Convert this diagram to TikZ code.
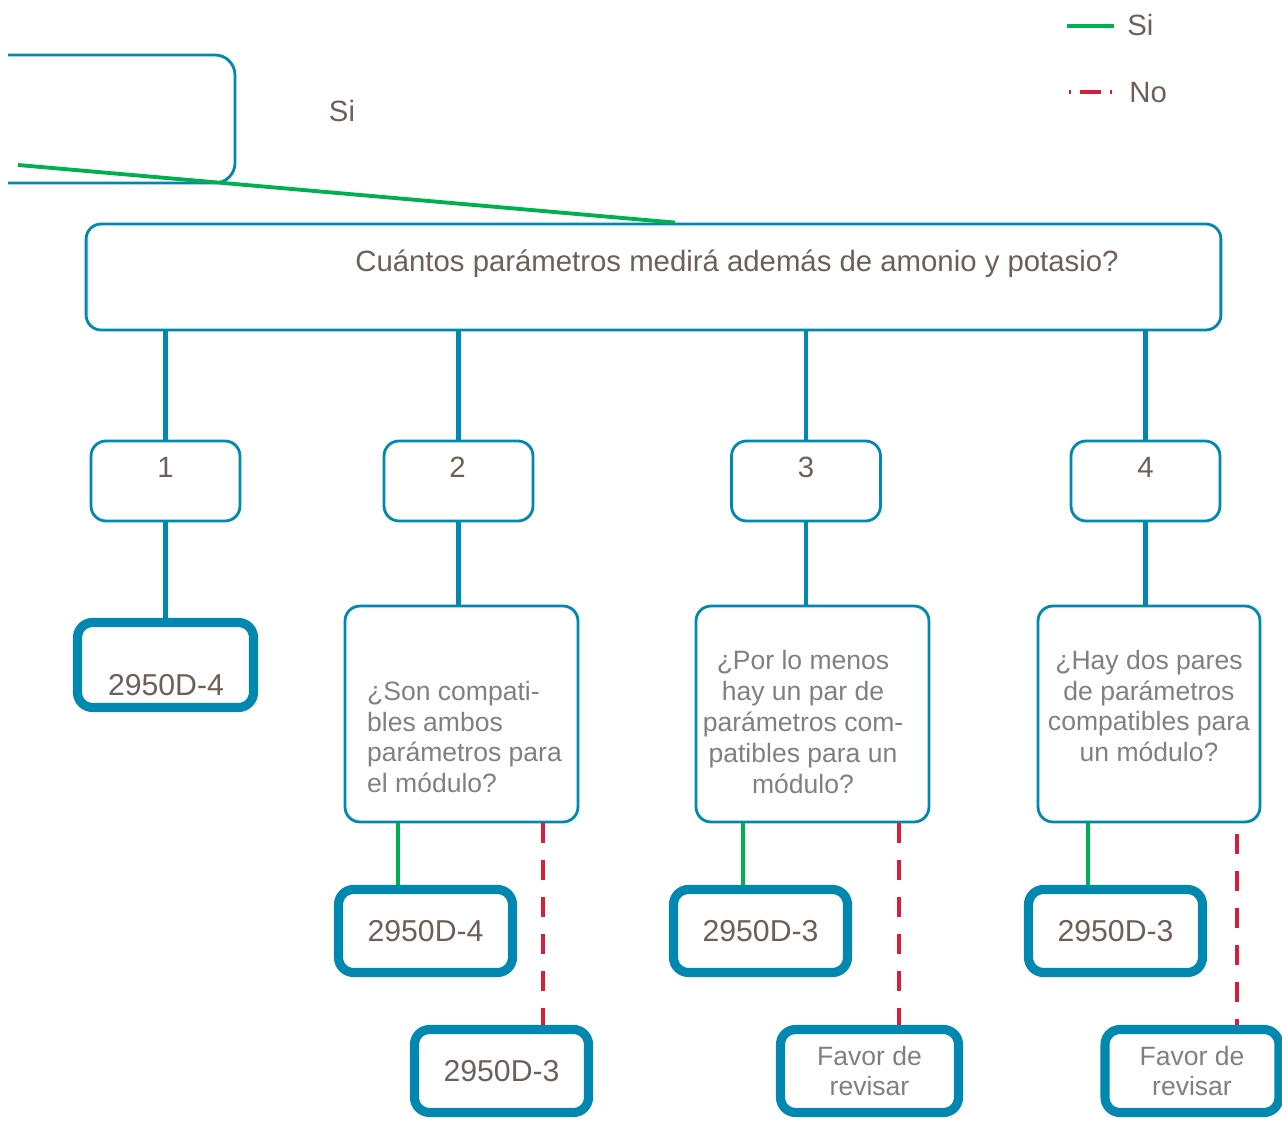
\documentclass[tikz,border=0pt]{standalone}
\usepackage{fontspec}
\setmainfont{Liberation Sans}
\definecolor{boxblue}{RGB}{0,136,176}
\definecolor{sigreen}{RGB}{0,176,80}
\definecolor{nored}{RGB}{215,30,58}
\definecolor{txtbrown}{RGB}{108,96,88}
\definecolor{txtgrey}{RGB}{128,128,128}
\tikzstyle{thinbox}=[draw=boxblue,line width=1.6pt,rounded corners=0.3cm,fill=white]
\tikzstyle{thickbox}=[draw=boxblue,line width=5.2pt,rounded corners=0.3cm,fill=white,minimum width=3.48cm,minimum height=1.66cm,align=center]
\tikzstyle{numbox}=[thinbox,minimum width=2.98cm,minimum height=1.6cm]
\tikzstyle{qbox}=[thinbox,minimum height=4.32cm]
\tikzstyle{blueline}=[draw=boxblue,line width=2.4pt]
\tikzstyle{siline}=[draw=sigreen,line width=2.2pt]
\tikzstyle{noline}=[draw=nored,line width=2.8pt,dash pattern=on 0.4cm off 0.34cm]
\tikzstyle{bigtext}=[text=txtbrown,font=\fontsize{16.7}{19}\selectfont]
\tikzstyle{codetext}=[text=txtbrown,font=\fontsize{17.2}{19}\selectfont]
\tikzstyle{qtext}=[text=txtgrey,font=\fontsize{15.1}{17.6}\selectfont]

\begin{document}
\begin{tikzpicture}[x=0.02cm,y=-0.02cm]
	\useasboundingbox (0,0) rectangle (1282,1121);
	% box cut by the page edge
	\draw[draw=boxblue,line width=1.6pt,rounded corners=0.4cm]
		(8,55) -- (235,55) -- (235,183) -- (8,183);
	\coordinate (prev) at (18,165);
	% legend
	\node[bigtext,inner sep=0pt,anchor=west] (legsi) at (1127,25) {Si};
	\node[bigtext,inner sep=0pt,anchor=west] (legno) at (1129,93) {No};
	\draw[siline,line width=2.6pt] (1067,26) -- (1114,26);
	\draw[noline,dash pattern=on 0.42cm off 0.18cm,dash phase=0.38cm] (1069,92) -- (1112,92);
	% question
	\node[thinbox,minimum width=22.7cm,minimum height=2.12cm] (main) at (653.5,277) {};
	\node[bigtext] (maintxt) at (737,264) {Cuántos parámetros medirá además de amonio y potasio?};
	\draw[siline] (prev) -- ([xshift=0.43cm]main.north);
	\node[bigtext] (sitxt) at (342,111) {Si};
	% how many
	\node[numbox] (n1) at (165.5,481) {};
	\node[numbox] (n2) at (458.5,481) {};
	\node[numbox] (n3) at (806,481) {};
	\node[numbox] (n4) at (1145.5,481) {};
		\node[bigtext] (n1txt) at (165.5,467) {1};
		\node[bigtext] (n2txt) at (457.5,467) {2};
		\node[bigtext] (n3txt) at (806,467) {3};
		\node[bigtext] (n4txt) at (1145.5,467) {4};
	\draw[blueline] (main.south -| n1) -- (n1.north);
	\draw[blueline] (main.south -| n2) -- (n2.north);
	\draw[blueline] (main.south -| n3) -- (n3.north);
	\draw[blueline] (main.south -| n4) -- (n4.north);
	% one parameter
	\draw[blueline] (n1.south) -- (n1 |- 0,640);
	\node[thickbox,minimum width=3.52cm,minimum height=1.7cm] (r1) at (165.5,665) {};
	\node[codetext] (r1txt) at (166,685) {2950D-4};
	% two, three, four parameters
	\draw[blueline] (n2.south) -- (n2 |- 0,640);
	\draw[blueline] (n3.south) -- (n3 |- 0,640);
	\draw[blueline] (n4.south) -- (n4 |- 0,640);
	\node[qbox,minimum width=4.66cm] (q2) at (461.5,714) {};
	\node[qbox,minimum width=4.66cm] (q3) at (812.5,714) {};
	\node[qbox,minimum width=4.44cm] (q4) at (1149,714) {};
		\node[qtext,align=left] (q2txt) at (464.5,737)
			{¿Son compati-\\bles ambos\\parámetros para\\el módulo?};
		\node[qtext,align=center] (q3txt) at (803,722)
			{¿Por lo menos\\hay un par de\\parámetros com-\\patibles para un\\módulo?};
		\node[qtext,align=center] (q4txt) at (1149,706)
			{¿Hay dos pares\\de parámetros\\compatibles para\\un módulo?};
	% answers
	\node[thickbox,codetext] (a2) at (425.5,931) {2950D-4};
	\node[thickbox,codetext] (a3) at (760.5,931) {2950D-3};
	\node[thickbox,codetext] (a4) at (1115.5,931) {2950D-3};
	\node[thickbox,codetext] (b2) at (501.5,1071) {2950D-3};
	\node[thickbox,qtext,minimum width=3.56cm] (b3) at (869.5,1071) {Favor de\\revisar};
	\node[thickbox,qtext] (b4) at (1192,1071) {Favor de\\revisar};
	\coordinate (g2) at ([xshift=-0.55cm]a2.north);
	\coordinate (g3) at ([xshift=-0.35cm]a3.north);
	\coordinate (g4) at ([xshift=-0.55cm]a4.north);
	\coordinate (r2) at ([xshift=0.83cm]b2.north);
	\coordinate (r3) at ([xshift=0.59cm]b3.north);
	\coordinate (r4) at ([xshift=0.9cm]b4.north);
	\draw[siline] (g2 |- q2.south) -- (g2);
	\draw[siline] (g3 |- q3.south) -- (g3);
	\draw[siline] (g4 |- q4.south) -- (g4);
	\draw[noline] (r2 |- q2.south) -- (r2);
	\draw[noline] (r3 |- q3.south) -- (r3);
	\draw[noline] (r4 |- q4.south) ++(0,11) -- (r4);
\end{tikzpicture}
\end{document}
